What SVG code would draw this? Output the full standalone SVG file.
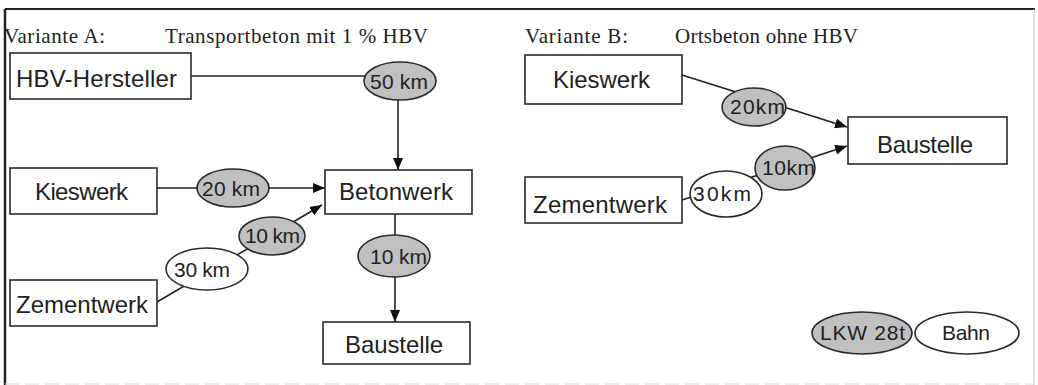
<svg xmlns="http://www.w3.org/2000/svg" width="1038" height="385" viewBox="0 0 1038 385">
<defs>
<style>
.box{fill:#fff;stroke:#2a2a2a;stroke-width:1.6}
.lbl{font-family:"Liberation Sans",Arial,sans-serif;font-size:24px;fill:#222}
.km{font-family:"Liberation Sans",Arial,sans-serif;font-size:21px;fill:#222}
.ttl{font-family:"Liberation Serif","Times New Roman",serif;font-size:21px;fill:#222}
.road{fill:#c0c0c0;stroke:#2a2a2a;stroke-width:1.6}
.rail{fill:#fff;stroke:#2a2a2a;stroke-width:1.6}
.con{fill:none;stroke:#222;stroke-width:1.6}
</style>
<marker id="arr" viewBox="0 0 10 10" refX="10" refY="5" markerWidth="12" markerHeight="10" markerUnits="userSpaceOnUse" orient="auto" preserveAspectRatio="none">
<path d="M0,0 L10,5 L0,10 Z" fill="#111"/>
</marker>
</defs>
<rect width="1038" height="385" fill="#fff"/>
<g id="frame">
<line x1="5" y1="9" x2="1035" y2="9" stroke="#222" stroke-width="2"/>
<line x1="5" y1="9" x2="5" y2="385" stroke="#222" stroke-width="2.5"/>
<line x1="1034" y1="9" x2="1034" y2="385" stroke="#c8c8c8" stroke-width="1"/>
<line x1="5" y1="384" x2="1034" y2="384" stroke="#d8d8d8" stroke-width="1" stroke-dasharray="14 6"/>
</g>
<g id="titles">
<text class="ttl" x="4" y="43" textLength="101" lengthAdjust="spacing">Variante A:</text>
<text class="ttl" x="165" y="43" textLength="263" lengthAdjust="spacing">Transportbeton mit 1 % HBV</text>
<text class="ttl" x="525" y="43" textLength="103" lengthAdjust="spacing">Variante B:</text>
<text class="ttl" x="675" y="43" textLength="183" lengthAdjust="spacing">Ortsbeton ohne HBV</text>
</g>
<g id="connectors">
<path class="con" d="M191,76 H398 V170" marker-end="url(#arr)"/>
<line class="con" x1="157" y1="188" x2="325" y2="188" marker-end="url(#arr)"/>
<line class="con" x1="157" y1="302" x2="322" y2="205" marker-end="url(#arr)"/>
<line class="con" x1="395" y1="214" x2="395" y2="322" marker-end="url(#arr)"/>
<line class="con" x1="682" y1="75" x2="847" y2="127" marker-end="url(#arr)"/>
<line class="con" x1="682" y1="200" x2="847" y2="146" marker-end="url(#arr)"/>
<g id="distances">
<ellipse class="road" cx="400" cy="81" rx="36" ry="19"/>
<text class="km" x="370" y="89" textLength="58" lengthAdjust="spacing">50 km</text>
<ellipse class="road" cx="233" cy="188" rx="36" ry="19"/>
<text class="km" x="202" y="196" textLength="58" lengthAdjust="spacing">20 km</text>
<ellipse class="rail" cx="207" cy="269" rx="41" ry="21"/>
<text class="km" x="174" y="277" textLength="56" lengthAdjust="spacing">30 km</text>
<ellipse class="road" cx="272" cy="236" rx="33" ry="19"/>
<text class="km" x="245" y="243" textLength="55" lengthAdjust="spacing">10 km</text>
<ellipse class="road" cx="394" cy="256" rx="36" ry="21"/>
<text class="km" x="370" y="264" textLength="57" lengthAdjust="spacing">10 km</text>
<ellipse class="road" cx="754" cy="107" rx="32" ry="19"/>
<text class="km" x="730" y="114" textLength="55" lengthAdjust="spacing">20km</text>
<ellipse class="rail" cx="726" cy="194" rx="36" ry="23"/>
<text class="km" x="693" y="201" textLength="58" lengthAdjust="spacing">30km</text>
<ellipse class="road" cx="785" cy="168" rx="30" ry="22"/>
<text class="km" x="762" y="175" textLength="53" lengthAdjust="spacing">10km</text>
</g>
</g>
<g id="a-hbv">
<rect class="box" x="10" y="53" width="181" height="46"/>
<text class="lbl" x="16" y="87" textLength="161" lengthAdjust="spacing">HBV-Hersteller</text>
</g>
<g id="a-kieswerk">
<rect class="box" x="10" y="168" width="147" height="46"/>
<text class="lbl" x="35" y="200" textLength="93" lengthAdjust="spacing">Kieswerk</text>
</g>
<g id="a-zementwerk">
<rect class="box" x="10" y="280" width="147" height="46"/>
<text class="lbl" x="16" y="313" textLength="132" lengthAdjust="spacing">Zementwerk</text>
</g>
<g id="a-betonwerk">
<rect class="box" x="325" y="170" width="147" height="44"/>
<text class="lbl" x="339" y="200" textLength="114" lengthAdjust="spacing">Betonwerk</text>
</g>
<g id="a-baustelle">
<rect class="box" x="323" y="322" width="147" height="42"/>
<text class="lbl" x="345" y="353" textLength="98" lengthAdjust="spacing">Baustelle</text>
</g>
<g id="b-kieswerk">
<rect class="box" x="525" y="55" width="157" height="49"/>
<text class="lbl" x="553" y="88" textLength="97" lengthAdjust="spacing">Kieswerk</text>
</g>
<g id="b-zementwerk">
<rect class="box" x="525" y="177" width="157" height="46"/>
<text class="lbl" x="533" y="213" textLength="134" lengthAdjust="spacing">Zementwerk</text>
</g>
<g id="b-baustelle">
<rect class="box" x="848" y="117" width="159" height="47"/>
<text class="lbl" x="877" y="153" textLength="96" lengthAdjust="spacing">Baustelle</text>
</g>
<g id="legend">
<ellipse class="road" cx="862" cy="333" rx="50" ry="21"/>
<text class="km" x="820" y="340" textLength="85" lengthAdjust="spacing">LKW 28t</text>
<ellipse class="rail" cx="967" cy="333" rx="52" ry="21"/>
<text class="km" x="942" y="340" textLength="48" lengthAdjust="spacing">Bahn</text>
</g>
</svg>
